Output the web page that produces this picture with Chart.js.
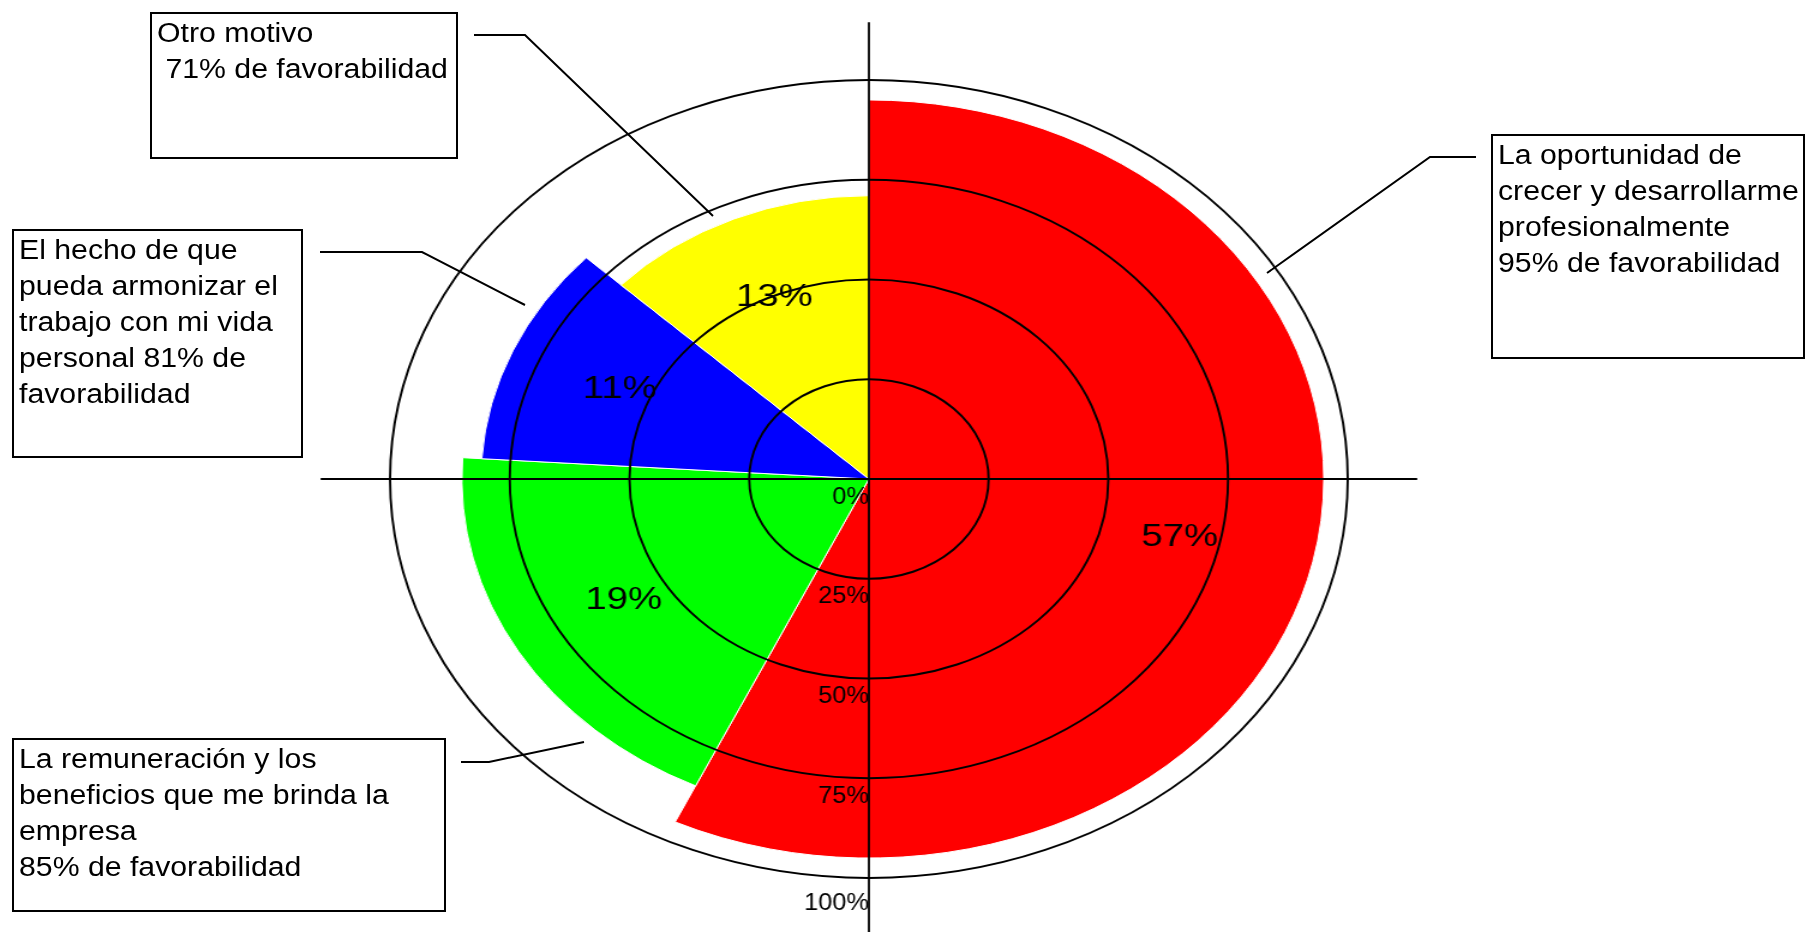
<!DOCTYPE html>
<html lang="es">
<head>
<meta charset="utf-8">
<title>Motivos de favorabilidad</title>
<script src="https://cdn.jsdelivr.net/npm/chart.js@4.4.1/dist/chart.umd.min.js"></script>
<style>
  html, body {
    margin: 0;
    padding: 0;
    background: #fff;
    width: 1805px;
    height: 932px;
    overflow: hidden;
  }
  #grafico {
    position: absolute;
    left: 0;
    top: 0;
  }
  #guias {
    position: absolute;
    left: 0;
    top: 0;
  }
  .caja {
    position: absolute;
    box-sizing: border-box;
    border: 2px solid #000;
    background: #fff;
    padding: 1px 0 0 5px;
    font-family: "Liberation Sans", Arial, sans-serif;
    font-size: 27px;
    line-height: 36px;
    color: #000;
  }
  .caja div {
    white-space: pre;
    transform: scaleX(1.12);
    transform-origin: 0 0;
  }
</style>
</head>
<body>
<canvas id="grafico" width="1504" height="932" style="width:1805px;height:932px"></canvas>

<svg id="guias" width="1805" height="932">
  <g fill="none" stroke="#000" stroke-width="2">
    <polyline points="474,35 525,35 713,216" />
    <polyline points="320,252 422,252 525,305" />
    <polyline points="461,762 489,762 584,742" />
    <polyline points="1476,157 1430,157 1267,273" />
  </g>
</svg>

<div class="caja" style="left:150px;top:12px;width:308px;height:147px">
  <div>Otro motivo
 71% de favorabilidad</div>
</div>
<div class="caja" style="left:12px;top:229px;width:291px;height:229px">
  <div>El hecho de que
pueda armonizar el
trabajo con mi vida
personal 81% de
favorabilidad</div>
</div>
<div class="caja" style="left:12px;top:738px;width:434px;height:174px">
  <div>La remuneración y los
beneficios que me brinda la
empresa
85% de favorabilidad</div>
</div>
<div class="caja" style="left:1491px;top:134px;width:314px;height:225px">
  <div>La oportunidad de
crecer y desarrollarme
profesionalmente
95% de favorabilidad</div>
</div>

<script>
// Datos
const categorias = [
  "La oportunidad de crecer y desarrollarme profesionalmente",
  "La remuneración y los beneficios que me brinda la empresa",
  "El hecho de que pueda armonizar el trabajo con mi vida personal",
  "Otro motivo",
];
// porcentaje de respuestas (ancho del sector)
const participacion = [57, 19, 11, 13];
// porcentaje de favorabilidad (largo del sector)
const favorabilidad = [95, 85, 81, 71];
const colores = ["#ff0000", "#00ff00", "#0000ff", "#ffff00"];
const marcasEje = [0, 25, 50, 75, 100];

const fuente = '"Liberation Sans", Arial, sans-serif';

// Ejes en cruz, etiquetas del eje y porcentajes dentro de cada sector
const decoracion = {
  id: "decoracion",
  afterDraw(chart) {
    const ctx = chart.ctx;
    const escala = chart.scales.r;
    const cx = escala.xCenter;
    const cy = escala.yCenter;
    const largo = escala.drawingArea * 1.145;

    ctx.save();
    ctx.strokeStyle = "#000";
    ctx.lineWidth = 1.8;
    ctx.beginPath();
    ctx.moveTo(cx - largo, cy);
    ctx.lineTo(cx + largo, cy);
    ctx.moveTo(cx, cy - largo);
    ctx.lineTo(cx, cy + largo);
    ctx.stroke();

    ctx.fillStyle = "#000";
    ctx.font = "24px " + fuente;
    ctx.textAlign = "right";
    ctx.textBaseline = "middle";
    marcasEje.forEach((valor) => {
      const y =
        cy + escala.getDistanceFromCenterForValue(valor) + (valor === escala.max ? 25 : 18);
      ctx.save();
      ctx.translate(cx, y);
      ctx.scale(0.88, 1);
      ctx.fillText(valor + "%", 0, 0);
      ctx.restore();
    });

    ctx.font = "32px " + fuente;
    ctx.textAlign = "center";
    chart.getDatasetMeta(0).data.forEach((arco, i) => {
      const p = arco.getProps(["x", "y", "startAngle", "endAngle", "outerRadius"]);
      const medio = (p.startAngle + p.endAngle) / 2;
      const d = p.outerRadius * 0.7;
      ctx.fillText(participacion[i] + "%", p.x + Math.cos(medio) * d, p.y + Math.sin(medio) * d);
    });
    ctx.restore();
  },
};

new Chart(document.getElementById("grafico"), {
  type: "polarArea",
  data: {
    labels: categorias,
    datasets: [
      {
        label: "Favorabilidad",
        data: favorabilidad,
        backgroundColor: colores,
        borderColor: "#fff",
        borderWidth: 1,
        // el ángulo de cada sector sale de su participación
        angle: (c) => participacion[c.dataIndex] * 3.6,
      },
    ],
  },
  options: {
    responsive: false,
    animation: false,
    devicePixelRatio: 1,
    layout: {
      padding: { left: 325, right: 381, top: 80, bottom: 54 },
    },
    plugins: {
      legend: { display: false },
      tooltip: { enabled: false },
    },
    scales: {
      r: {
        min: 0,
        max: 100,
        ticks: { display: false, stepSize: 25 },
        grid: { color: "#000", lineWidth: 1.9, z: 1 },
        angleLines: { display: false },
        pointLabels: { display: false },
      },
    },
  },
  plugins: [decoracion],
});
</script>
</body>
</html>
